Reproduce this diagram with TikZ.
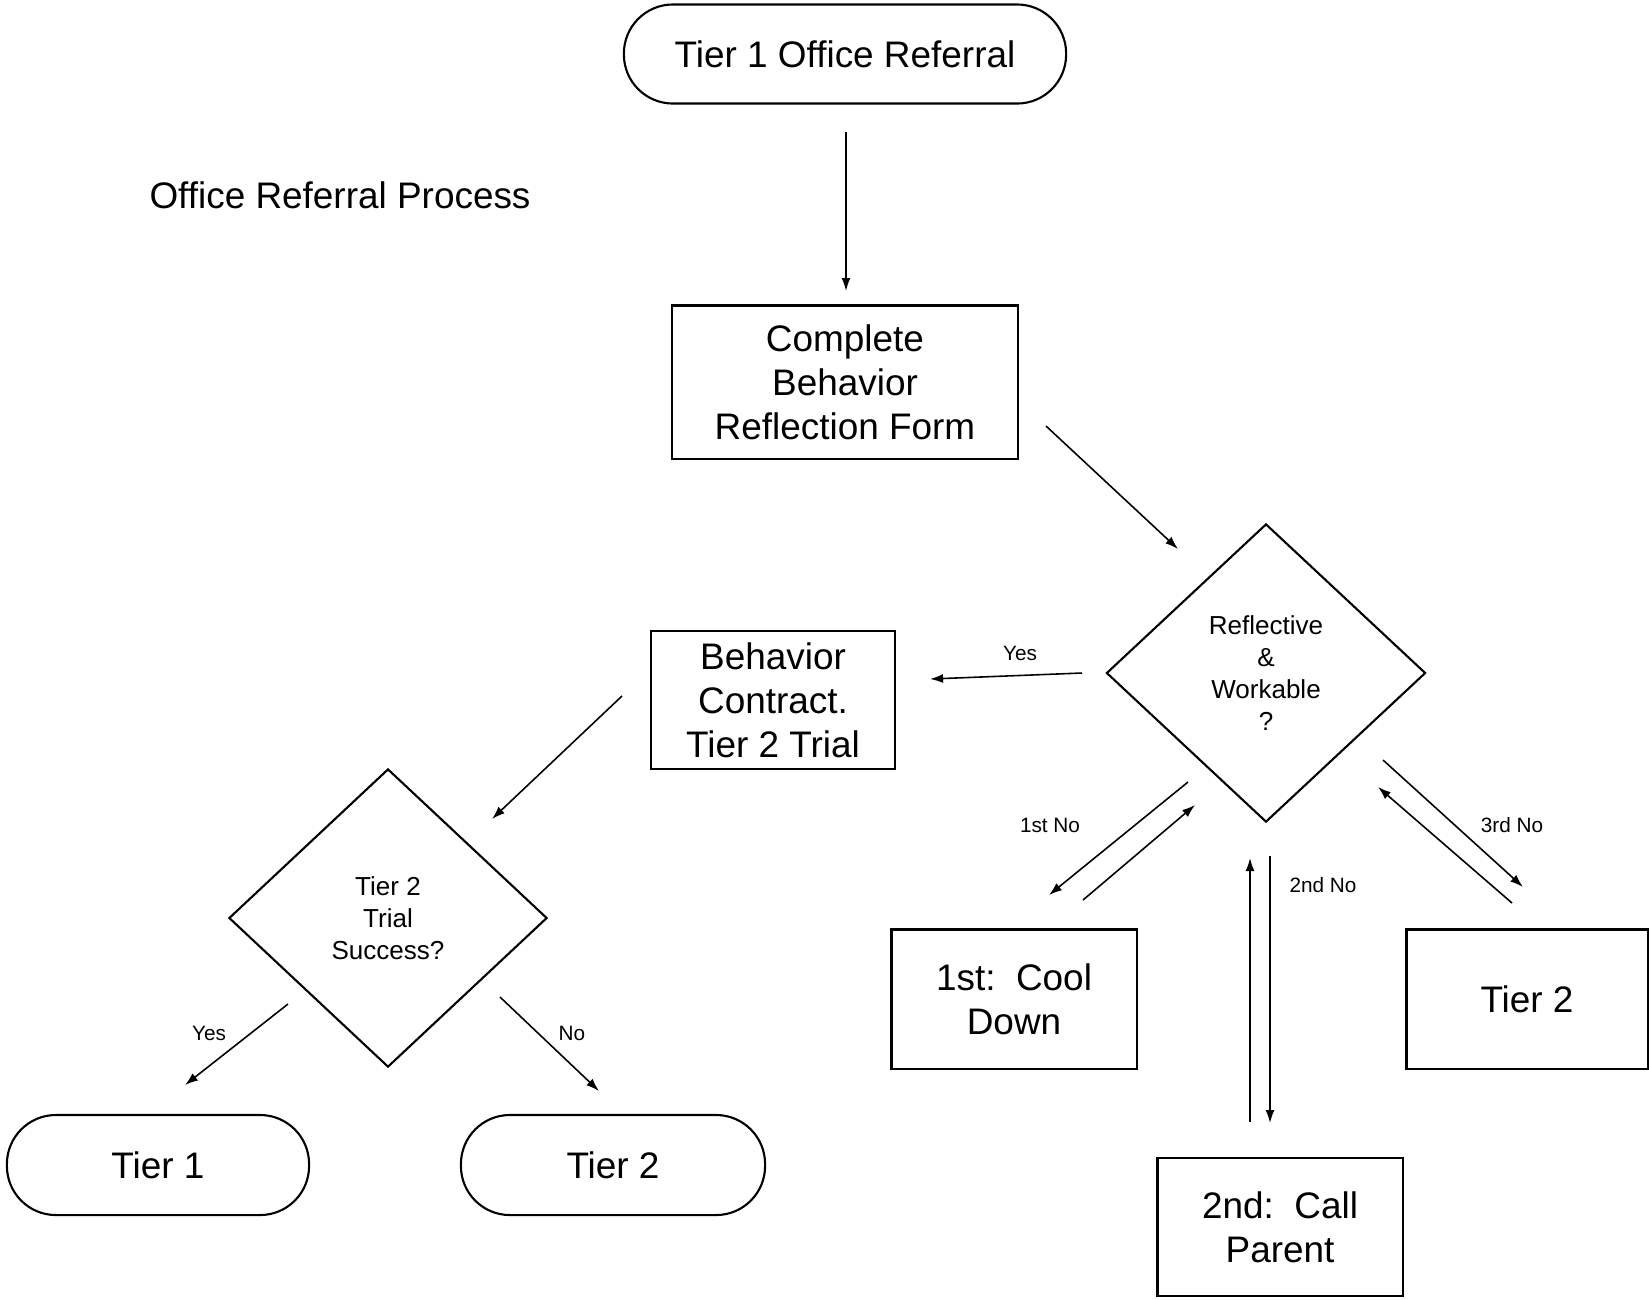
\documentclass[tikz,border=0pt]{standalone}
\usepackage{fontspec}
\setmainfont{Liberation Sans}
\usetikzlibrary{arrows.meta,shapes.geometric}
\newcommand{\bigtxt}{\fontsize{10.5}{12.5}\selectfont}
\newcommand{\midtxt}{\fontsize{7.4}{9.1}\selectfont}
\newcommand{\smalltxt}{\fontsize{5.9}{7}\selectfont}
\tikzset{
  box/.style={draw, line width=0.6pt, align=center, font=\bigtxt, inner sep=0pt},
  term/.style={box, rounded corners=0.49cm},
  decide/.style={draw, diamond, line width=0.6pt, align=center, font=\midtxt,
    inner sep=0pt, minimum width=3.19cm, minimum height=2.98cm},
  arr/.style={-{Latex[length=0.13cm,width=0.09cm]}, line width=0.45pt},
  lbl/.style={font=\smalltxt, inner sep=0pt}
}
\begin{document}
\begin{tikzpicture}[x=0.01cm, y=-0.01cm]
  \useasboundingbox (0,0) rectangle (1649,1299);
  \node[font=\bigtxt] (title) at (340,195) {Office Referral Process};
  % nodes
  \node[term, minimum width=4.42cm, minimum height=0.99cm] (start) at (845,54) {Tier 1 Office Referral};
  \node[box, minimum width=3.46cm, minimum height=1.53cm] (form) at (845,382) {Complete\\Behavior\\Reflection Form};
  \node[decide] (reflect) at (1266,673) {Reflective\\\&\\Workable\\?};
  \node[box, minimum width=2.43cm, minimum height=1.38cm] (contract) at (773,700) {Behavior\\Contract.\\Tier 2 Trial};
  \node[decide, minimum width=3.18cm] (trial) at (388,918) {Tier 2\\Trial\\Success?};
  \node[term, minimum width=3.02cm, minimum height=1.0cm] (tierA) at (158,1165) {Tier 1};
  \node[term, minimum width=3.04cm, minimum height=1.0cm] (tierB) at (613,1165) {Tier 2};
  \node[box, minimum width=2.45cm, minimum height=1.39cm] (cool) at (1014,999) {1st:\ \ Cool\\Down};
  \node[box, minimum width=2.45cm, minimum height=1.38cm] (parent) at (1280,1227) {2nd:\ \ Call\\Parent};
  \node[box, minimum width=2.41cm, minimum height=1.39cm] (tierC) at (1527,999) {Tier 2};
  % arrow ends
  \coordinate (s1) at (846,132);   \coordinate (s2) at (846,291);
  \coordinate (f1) at (1046,426);  \coordinate (f2) at (1178,549);
  \coordinate (y1) at (1082,673);  \coordinate (y2) at (930,679);
  \coordinate (c1) at (622,696);   \coordinate (c2) at (492,819);
  \coordinate (t1) at (288,1004);  \coordinate (t2) at (185,1085);
  \coordinate (t3) at (500,997);   \coordinate (t4) at (599,1091);
  \coordinate (n1) at (1188,782);  \coordinate (n2) at (1049,895);
  \coordinate (n3) at (1083,900);  \coordinate (n4) at (1195,805);
  \coordinate (m1) at (1270,856);  \coordinate (m2) at (1270,1123);
  \coordinate (m3) at (1250,1122); \coordinate (m4) at (1250,858);
  \coordinate (k1) at (1383,760);  \coordinate (k2) at (1523,887);
  \coordinate (k3) at (1512,903);  \coordinate (k4) at (1378,787);
  % connectors
  \draw[arr] (s1) -- (s2);
  \draw[arr] (f1) -- (f2);
  \draw[arr] (y1) -- (y2);
  \draw[arr] (c1) -- (c2);
  \draw[arr] (t1) -- (t2);
  \draw[arr] (t3) -- (t4);
  \draw[arr] (n1) -- (n2);
  \draw[arr] (n3) -- (n4);
  \draw[arr] (m1) -- (m2);
  \draw[arr] (m3) -- (m4);
  \draw[arr] (k1) -- (k2);
  \draw[arr] (k3) -- (k4);
  % labels
  \node[lbl] (lyes) at (1020,653) {Yes};
  \node[lbl] (lno1) at (1050,825) {1st No};
  \node[lbl] (lno2) at (1323,885) {2nd No};
  \node[lbl] (lno3) at (1512,825) {3rd No};
  \node[lbl] (tyes) at (209,1033) {Yes};
  \node[lbl] (tno) at (572,1033) {No};
\end{tikzpicture}
\end{document}
